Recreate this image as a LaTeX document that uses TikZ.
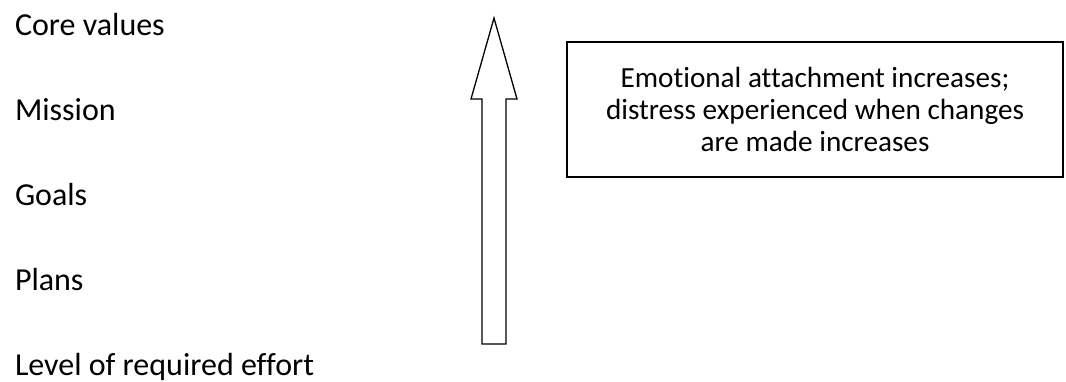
\documentclass[tikz,border=0pt]{standalone}
\usepackage{fontspec}
\setmainfont{Carlito}[Ligatures=NoCommon]
\begin{document}
\begin{tikzpicture}[x={(1pt,0pt)},y={(0pt,-1pt)},every node/.style={inner sep=0pt, outer sep=0pt},
  level/.style={anchor=base west, font=\fontsize{32}{38}\selectfont},
  notebox/.style={draw, line width=1.6pt, minimum width=496pt, minimum height=135pt, align=center, font=\fontsize{29.2}{32}\selectfont}]
\useasboundingbox (0,0) rectangle (1066,381);
\node[level] (core) at (15,35) {Core values};
\node[level] (mission) at (15,120) {Mission};
\node[level] (goals) at (15,205) {Goals};
\node[level] (plans) at (15,290) {Plans};
\node[level] (effort) at (15,375) {Level of required effort};
\node[notebox] (note) at (815,109.5) {Emotional attachment increases;\\distress experienced when changes\\are made increases};
\draw[line width=1.3pt] (482,344) -- (482,99) -- (471,99) -- (494,18) -- (517,99) -- (506,99) -- (506,344) -- cycle;
\end{tikzpicture}
\end{document}
